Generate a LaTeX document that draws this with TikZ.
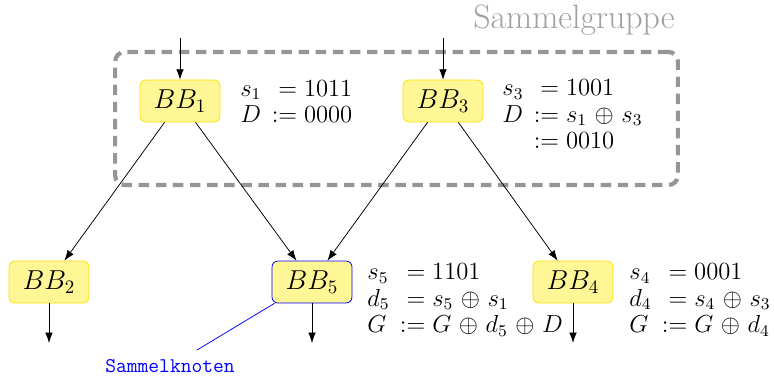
\documentclass[tikz,border=0pt]{standalone}
\usetikzlibrary{arrows.meta}
\definecolor{bbfill}{RGB}{255,246,150}
\definecolor{bbdraw}{RGB}{255,225,0}
\definecolor{grpgray}{RGB}{150,150,150}
\definecolor{titlegray}{RGB}{160,160,160}
\renewcommand{\arraystretch}{0.92}
\newcommand{\annbox}[1]{\scalebox{1.08}{\large\medmuskip=5.5mu plus 2mu minus 4mu $#1$}}
\begin{document}
\begin{tikzpicture}[x=0.526pt,y=-0.526pt,
  bb/.style={draw=bbdraw, fill=bbfill, rounded corners=3pt, minimum width=42pt, minimum height=22pt, inner sep=0pt, font=\Large},
  flow/.style={-{Latex[length=5.5pt,width=4pt]}},
  ann/.style={anchor=west, inner sep=0pt},
  grp/.style={draw=grpgray, line width=2.2pt, dash pattern=on 5.5pt off 3.5pt, rounded corners=5pt, minimum width=296pt, minimum height=70pt, inner sep=0pt}]
\useasboundingbox (0,0) rectangle (774,376);
\node[grp] (group) at (396.5,118.5) {};
\node[text=titlegray, font=\fontsize{17.8pt}{21pt}\selectfont, inner sep=0pt] (title) at (574,20) {Sammelgruppe};

\node[bb] (BB1) at (180,101) {$BB_1$};
\node[bb] (BB3) at (443,101) {$BB_3$};
\node[bb] (BB2) at (49,282) {$BB_2$};
\node[bb, draw=blue] (BB5) at (312,282) {$BB_5$};
\node[bb] (BB4) at (573,282) {$BB_4$};

\coordinate (in1) at (180,38);
\coordinate (in3) at (443,38);
\coordinate (out2) at (49,343);
\coordinate (out5) at (312,343);
\coordinate (out4) at (573,343);

\draw[flow] (in1) -- (BB1);
\draw[flow] (in3) -- (BB3);
\draw[flow] (BB1) -- (BB2);
\draw[flow] (BB1) -- (BB5);
\draw[flow] (BB3) -- (BB5);
\draw[flow] (BB3) -- (BB4);
\draw[flow] (BB2) -- (out2);
\draw[flow] (BB5) -- (out5);
\draw[flow] (BB4) -- (out4);

\node[ann] (t1) at (240,104) {\annbox{\begin{array}{@{}l@{\hspace{5pt}}r@{}l@{}}
 s_1 & & = 1011\\
 D & \mathrel{:} & = 0000
\end{array}}};
\node[ann] (t3) at (502,117) {\annbox{\begin{array}{@{}l@{\hspace{5pt}}r@{}l@{}}
 s_3 & & = 1001\\
 D & \mathrel{:} & = s_1 \oplus s_3\\
   & \mathrel{:} & = 0010
\end{array}}};
\node[ann] (t5) at (367,301) {\annbox{\begin{array}{@{}l@{\hspace{5pt}}r@{}l@{}}
 s_5 & & = 1101\\
 d_5 & & = s_5 \oplus s_1\\
 G & \mathrel{:} & = G \oplus d_5 \oplus D
\end{array}}};
\node[ann] (t4) at (629,301) {\annbox{\begin{array}{@{}l@{\hspace{5pt}}r@{}l@{}}
 s_4 & & = 0001\\
 d_4 & & = s_4 \oplus s_3\\
 G & \mathrel{:} & = G \oplus d_4
\end{array}}};

\node[text=blue, font=\fontsize{11pt}{13pt}\ttfamily, inner sep=0pt] (lbl) at (170,366) {Sammelknoten};
\coordinate (lbltip) at (197,350);
\draw[blue] ([xshift=1.5pt]BB5.south west) -- (lbltip);
\end{tikzpicture}
\end{document}
